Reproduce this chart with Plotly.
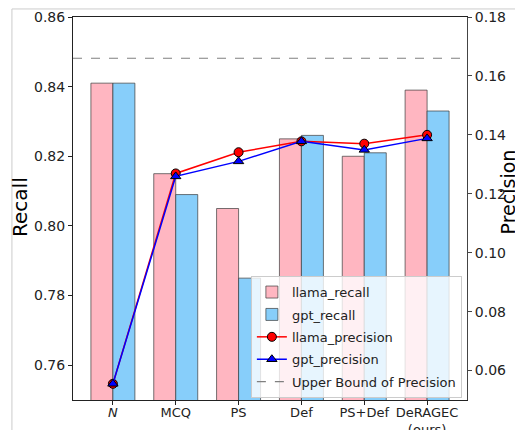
import plotly.graph_objects as go

categories = ["N", "MCQ", "PS", "Def", "PS+Def", "DeRAGEC"]
tick_labels = ["<i>N</i>", "MCQ", "PS", "Def", "PS+Def", "DeRAGEC<br>(ours)"]
llama_recall = [0.841, 0.815, 0.805, 0.825, 0.820, 0.839]
gpt_recall = [0.841, 0.809, 0.785, 0.826, 0.821, 0.833]
llama_precision = [0.0555, 0.1269, 0.1341, 0.1378, 0.1370, 0.1400]
gpt_precision = [0.0555, 0.1259, 0.1310, 0.1378, 0.1349, 0.1388]
upper_bound_precision = 0.166

FONT = "DejaVu Sans"
fig = go.Figure()
fig.add_trace(go.Bar(x=categories, y=llama_recall, name="llama_recall",
                     marker=dict(color="#FFB6C1", line=dict(color="rgba(60,60,60,0.7)", width=1)),
                     legendgroup="a"))
fig.add_trace(go.Bar(x=categories, y=gpt_recall, name="gpt_recall",
                     marker=dict(color="#87CEFA", line=dict(color="rgba(60,60,60,0.7)", width=1)),
                     legendgroup="b"))
fig.add_trace(go.Scatter(x=categories, y=llama_precision, name="llama_precision", yaxis="y2",
                         mode="lines+markers", line=dict(color="red", width=1.5),
                         marker=dict(symbol="circle", size=9, color="red", line=dict(color="black", width=1)),
                         legendgroup="c"))
fig.add_trace(go.Scatter(x=categories, y=gpt_precision, name="gpt_precision", yaxis="y2",
                         mode="lines+markers", line=dict(color="blue", width=1.5),
                         marker=dict(symbol="triangle-up", size=9, color="blue", line=dict(color="black", width=1)),
                         legendgroup="d"))
fig.add_trace(go.Scatter(x=[None], y=[None], name="Upper Bound of Precision", yaxis="y2",
                         mode="lines", line=dict(color="gray", width=1.2, dash="dash"),
                         legendgroup="e"))

fig.add_shape(type="line", xref="paper", x0=0, x1=1, yref="y2",
              y0=upper_bound_precision, y1=upper_bound_precision,
              line=dict(color="gray", width=1.2, dash="dash"))
# figure frame
fig.add_shape(type="rect", xref="paper", yref="paper", x0=-0.155, x1=1.3, y0=-0.3, y1=1.021,
              line=dict(color="#cccccc", width=1), layer="below")

fig.add_annotation(text="Recall", xref="paper", yref="paper", x=-0.1345, y=0.504,
                   xanchor="center", yanchor="middle",
                   textangle=-90, showarrow=False, font=dict(size=20, color="black"))
fig.add_annotation(text="Precision", xref="paper", yref="paper", x=1.105, y=0.543,
                   xanchor="center", yanchor="middle",
                   textangle=-90, showarrow=False, font=dict(size=19, color="black"))

fig.update_layout(
    width=515, height=422,
    margin=dict(l=65, r=56, t=9, b=30, autoexpand=False),
    paper_bgcolor="white", plot_bgcolor="white",
    font=dict(family=FONT, size=14, color="#222"),
    barmode="group", bargap=0.3, bargroupgap=0,
    xaxis=dict(range=[-0.635, 5.635], tickvals=categories, ticktext=tick_labels,
               showline=True, linecolor="#222", linewidth=1, mirror=True, automargin=False,
               ticks="outside", ticklen=4, tickcolor="#222", showgrid=False,
               tickfont=dict(size=13), ticklabelstandoff=-4),
    yaxis=dict(range=[0.75, 0.86], tickvals=[0.76, 0.78, 0.80, 0.82, 0.84, 0.86],
               tickformat=".2f", showline=True, linecolor="#222", linewidth=1, automargin=False,
               ticks="outside", ticklen=4, tickcolor="#222", showgrid=False, zeroline=False),
    yaxis2=dict(range=[0.05, 0.18], tickvals=[0.06, 0.08, 0.10, 0.12, 0.14, 0.16, 0.18],
                tickformat=".2f", overlaying="y", side="right", showline=True, automargin=False,
                linecolor="#444", linewidth=1, ticks="outside", ticklen=4, tickcolor="#444",
                showgrid=False, zeroline=False),
    legend=dict(x=0.987, xanchor="right", y=0.005, yanchor="bottom",
                bgcolor="rgba(255,255,255,0.8)", bordercolor="#cccccc", borderwidth=1,
                font=dict(size=13), traceorder="grouped", tracegroupgap=2.5),
)

fig.write_html("out.html")
